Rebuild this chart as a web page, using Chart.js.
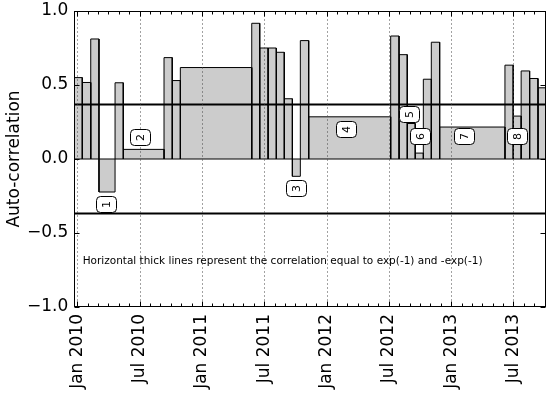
<!DOCTYPE html>
<html>
<head>
<meta charset="utf-8">
<script src="https://cdn.jsdelivr.net/npm/chart.js@4.4.1/dist/chart.umd.min.js"></script>
<style>
  html, body { margin: 0; padding: 0; background: #fff; }
  canvas { display: block; }
</style>
</head>
<body>
<canvas id="c" width="550" height="395"></canvas>
<script>
// bar edges as decimal years (2010.0 = Jan 2010), one more than the values
const edges = [
  2009.976, 2010.040, 2010.108, 2010.174, 2010.303, 2010.369, 2010.696, 2010.762,
  2010.827, 2011.400, 2011.464, 2011.531, 2011.597, 2011.661, 2011.726, 2011.790,
  2011.857, 2012.515, 2012.582, 2012.648, 2012.712, 2012.777, 2012.841, 2012.908,
  2013.432, 2013.498, 2013.562, 2013.630, 2013.697, 2013.759
];
const acf = [
  0.55, 0.517, 0.811, -0.223, 0.515, 0.065, 0.685, 0.53, 0.618,
  0.917, 0.75, 0.75, 0.721, 0.407, -0.117, 0.80, 0.285,
  0.831, 0.705, 0.24, 0.04, 0.539, 0.789, 0.216,
  0.634, 0.29, 0.595, 0.544, 0.481
];
const threshold = Math.exp(-1);

const xTicks = [2010, 2010.5, 2011, 2011.5, 2012, 2012.5, 2013, 2013.5];
const xLabels = ['Jan 2010', 'Jul 2010', 'Jan 2011', 'Jul 2011', 'Jan 2012', 'Jul 2012', 'Jan 2013', 'Jul 2013'];
const yTicks = [-1, -0.5, 0, 0.5, 1];

// numbered boxes
const boxIds = ['1', '2', '3', '4', '5', '6', '7', '8'];
const boxX = [2010.233, 2010.50, 2011.755, 2012.157, 2012.661, 2012.749, 2013.105, 2013.529];
const boxY = [-0.301, 0.149, -0.199, 0.201, 0.301, 0.157, 0.155, 0.156];

const note = 'Horizontal thick lines represent the correlation equal to exp(-1) and -exp(-1)';
const noteX = 2010.043, noteY = -0.693;

const FONT = 'DejaVu Sans';
Chart.defaults.font.family = FONT;
Chart.defaults.color = '#000';

const xMin = edges[0], xMax = edges[edges.length - 1];

const datasets = acf.map((v, i) => ({
  data: [
    { x: edges[i], y: 0 }, { x: edges[i], y: v },
    { x: edges[i + 1], y: v }, { x: edges[i + 1], y: 0 }
  ],
  borderColor: '#000', borderWidth: 1, backgroundColor: '#cccccc',
  fill: 'origin', pointRadius: 0, tension: 0, order: 2
}));
[0, threshold, -threshold].forEach(v => datasets.push({
  data: [{ x: xMin, y: v }, { x: xMax, y: v }],
  borderColor: '#000', borderWidth: v === 0 ? 1 : 2,
  fill: false, pointRadius: 0, order: 1
}));

function seg(ctx, x1, y1, x2, y2) {
  ctx.beginPath(); ctx.moveTo(x1, y1); ctx.lineTo(x2, y2); ctx.stroke();
}

const decor = {
  id: 'decor',
  afterDatasetsDraw(chart) {
    const { ctx, chartArea: a, scales: { x, y } } = chart;
    const L = Math.round(a.left) + 0.5, R = Math.round(a.right) - 0.5;
    const T = Math.round(a.top) + 0.5, B = Math.round(a.bottom) - 0.5;
    ctx.save();
    ctx.lineWidth = 1;

    // dotted grid at Jan / Jul
    ctx.strokeStyle = '#444';
    ctx.setLineDash([1, 3]);
    xTicks.forEach(v => {
      const px = Math.round(x.getPixelForValue(v)) + 0.5;
      seg(ctx, px, T, px, B);
    });
    ctx.setLineDash([]);

    // ticks, inward
    ctx.strokeStyle = '#000';
    for (let yr = 2009; yr <= 2013; yr++) {
      for (let m = 0; m < 12; m++) {
        const v = yr + m / 12;
        if (v < xMin || v > xMax) continue;
        const len = (m % 6 === 0) ? 5 : 3;
        const px = Math.round(x.getPixelForValue(v)) + 0.5;
        seg(ctx, px, B, px, B - len);
        seg(ctx, px, T, px, T + len);
      }
    }
    yTicks.forEach(v => {
      const py = Math.round(y.getPixelForValue(v)) + 0.5;
      seg(ctx, L, py, L + 5, py);
      seg(ctx, R, py, R - 5, py);
    });

    // frame
    ctx.strokeRect(L, T, R - L, B - T);

    // numbered boxes
    ctx.font = '11px "' + FONT + '"';
    ctx.textAlign = 'center';
    ctx.textBaseline = 'middle';
    boxIds.forEach((id, i) => {
      const cx = Math.round(x.getPixelForValue(boxX[i]));
      const cy = Math.round(y.getPixelForValue(boxY[i]));
      ctx.beginPath();
      ctx.roundRect(cx - 10 + 0.5, cy - 8 + 0.5, 20, 16, 4);
      ctx.fillStyle = '#fff';
      ctx.fill();
      ctx.stroke();
      ctx.save();
      ctx.translate(cx + 0.5, cy + 0.5);
      ctx.rotate(-Math.PI / 2);
      ctx.fillStyle = '#000';
      ctx.fillText(id, 0, 0.5);
      ctx.restore();
    });

    // note
    ctx.font = '10.5px "' + FONT + '"';
    ctx.textAlign = 'left';
    ctx.fillStyle = '#000';
    ctx.fillText(note, x.getPixelForValue(noteX), y.getPixelForValue(noteY));
    ctx.restore();
  }
};

new Chart(document.getElementById('c'), {
  type: 'line',
  data: { datasets },
  options: {
    responsive: false,
    animation: false,
    layout: { padding: { top: 11, right: 4.3, left: 0, bottom: 0 } },
    plugins: { legend: { display: false }, tooltip: { enabled: false } },
    scales: {
      x: {
        type: 'linear', min: xMin, max: xMax,
        afterBuildTicks: s => { s.ticks = xTicks.map(v => ({ value: v })); },
        afterFit: s => { s.height = 88; s.paddingLeft = 0; s.paddingRight = 0; },
        ticks: {
          autoSkip: false, minRotation: 90, maxRotation: 90, padding: 7,
          font: { size: 17 },
          callback: v => xLabels[xTicks.indexOf(v)]
        },
        grid: { display: false, drawTicks: false },
        border: { display: false }
      },
      y: {
        min: -1, max: 1,
        afterBuildTicks: s => { s.ticks = yTicks.map(v => ({ value: v })); },
        afterFit: s => { s.width = 74.3; s.paddingTop = 0; s.paddingBottom = 0; },
        ticks: {
          padding: 6, font: { size: 17 },
          callback: v => (v < 0 ? '\u2212' : '') + Math.abs(v).toFixed(1)
        },
        grid: { display: false, drawTicks: false },
        border: { display: false },
        title: { display: true, text: 'Auto-correlation', font: { size: 17 }, padding: { top: 4, bottom: 0 } }
      }
    }
  },
  plugins: [decor]
});
</script>
</body>
</html>
